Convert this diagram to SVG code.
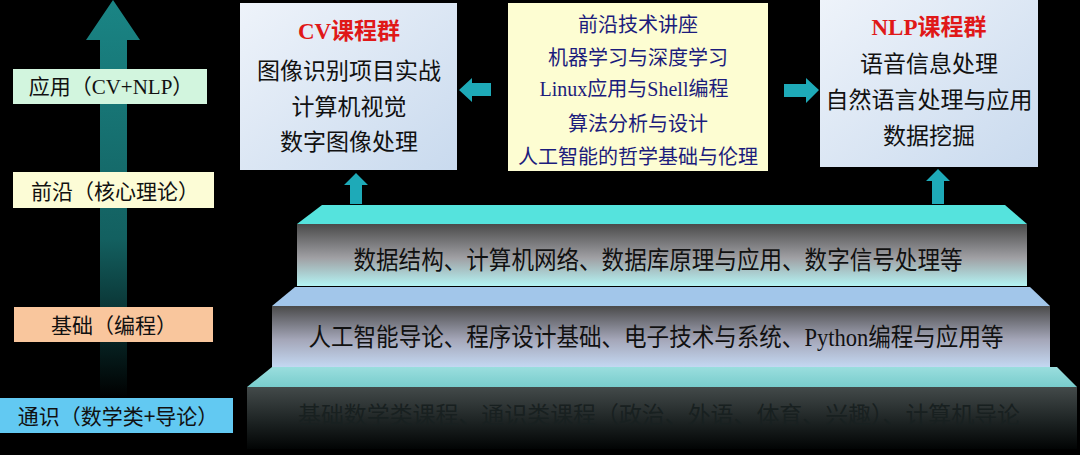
<svg xmlns="http://www.w3.org/2000/svg" width="1080" height="455" viewBox="0 0 1080 455">
<defs>
<style>
.cjk{font-family:"Noto Sans CJK SC","Noto Sans",sans-serif;}
.mix{font-family:"Liberation Serif","Noto Sans CJK SC",serif;}
.lbl{font-size:21px;fill:#111;text-anchor:middle;dominant-baseline:central;}
.box{font-size:23px;fill:#111;text-anchor:middle;dominant-baseline:central;}
.mid{font-size:20px;fill:#1c1c7c;text-anchor:middle;dominant-baseline:central;}
.ttl{font-size:23px;fill:#e01818;font-weight:bold;text-anchor:middle;dominant-baseline:central;}
.step{font-size:25px;fill:#111;text-anchor:middle;dominant-baseline:central;}
.arr{fill:#1eaab8;}
</style>
<linearGradient id="bigArrow" x1="0" y1="0" x2="0" y2="1">
<stop offset="0" stop-color="#1a8585"/>
<stop offset="0.6" stop-color="#136060"/>
<stop offset="1" stop-color="#000"/>
</linearGradient>
<linearGradient id="cvFill" x1="0" y1="0" x2="1" y2="1">
<stop offset="0" stop-color="#eef3fa"/>
<stop offset="1" stop-color="#c9daee"/>
</linearGradient>
<linearGradient id="front1" x1="0" y1="0" x2="0" y2="1">
<stop offset="0" stop-color="#4a4a4a"/>
<stop offset="0.55" stop-color="#a0a0a4"/>
<stop offset="1" stop-color="#b4f4f4"/>
</linearGradient>
<linearGradient id="front2" x1="0" y1="0" x2="0" y2="1">
<stop offset="0" stop-color="#4a4a4a"/>
<stop offset="0.55" stop-color="#a4a6b8"/>
<stop offset="1" stop-color="#c4d8f2"/>
</linearGradient>
<linearGradient id="front3" x1="0" y1="0" x2="0" y2="1">
<stop offset="0" stop-color="#434a4a"/>
<stop offset="0.6" stop-color="#1a2020"/>
<stop offset="1" stop-color="#020404"/>
</linearGradient>
<linearGradient id="top3" x1="0" y1="0" x2="0" y2="1">
<stop offset="0" stop-color="#9adede"/>
<stop offset="1" stop-color="#78cccc"/>
</linearGradient>
</defs>
<rect width="1080" height="455" fill="#000"/>

<g id="progress-arrow">
<path d="M113 0 L140 40 L127 40 L127 398 L100 398 L100 40 L86 40 Z" fill="url(#bigArrow)"/>
</g>

<g id="label-app">
<rect x="13" y="69" width="194" height="35" fill="#d2f5de"/>
<text class="mix lbl" x="111" y="87">应用（CV+NLP）</text>
</g>
<g id="label-frontier">
<rect x="13" y="172" width="201" height="36" fill="#fcfcd6"/>
<text class="cjk lbl" x="115" y="190">前沿（核心理论）</text>
</g>
<g id="label-basic">
<rect x="14" y="307" width="199" height="35" fill="#f9c69d"/>
<text class="cjk lbl" x="114" y="324">基础（编程）</text>
</g>
<g id="label-general">
<rect x="0" y="398" width="233" height="35" fill="#62c9f2"/>
<text class="cjk lbl" x="118" y="415">通识（数学类+导论）</text>
</g>

<g id="cv-box">
<rect x="240" y="3" width="217" height="167" fill="url(#cvFill)"/>
<text class="mix ttl" x="349" y="31">CV课程群</text>
<text class="cjk box" x="349" y="69">图像识别项目实战</text>
<text class="cjk box" x="349" y="105">计算机视觉</text>
<text class="cjk box" x="349" y="140">数字图像处理</text>
</g>

<g id="frontier-box">
<rect x="508" y="3" width="260" height="168" fill="#fdfdd2"/>
<text class="cjk mid" x="638" y="23">前沿技术讲座</text>
<text class="cjk mid" x="638" y="56">机器学习与深度学习</text>
<text class="mix mid" x="634" y="89">Linux应用与Shell编程</text>
<text class="cjk mid" x="638" y="122">算法分析与设计</text>
<text class="cjk mid" x="638" y="155">人工智能的哲学基础与伦理</text>
</g>

<g id="nlp-box">
<rect x="820" y="0" width="218" height="167" fill="url(#cvFill)"/>
<text class="mix ttl" x="929" y="27">NLP课程群</text>
<text class="cjk box" x="929" y="62">语音信息处理</text>
<text class="cjk box" x="929" y="98">自然语言处理与应用</text>
<text class="cjk box" x="929" y="134">数据挖掘</text>
</g>

<g id="step-top">
<path d="M322 205 L1005 205 L1027 224 L297 224 Z" fill="#55e3dd"/>
<rect x="297" y="224" width="730" height="62" fill="url(#front1)"/>
<text class="cjk step" x="658" y="258" textLength="609" lengthAdjust="spacingAndGlyphs">数据结构、计算机网络、数据库原理与应用、数字信号处理等</text>
</g>

<g id="step-middle">
<path d="M295 287 L1030 287 L1050 306 L272 306 Z" fill="#a2c6ea"/>
<rect x="272" y="306" width="778" height="61" fill="url(#front2)"/>
<text class="mix step" x="656" y="337" textLength="695" lengthAdjust="spacingAndGlyphs">人工智能导论、程序设计基础、电子技术与系统、Python编程与应用等</text>
</g>

<g id="step-bottom">
<path d="M272 367 L1057 367 L1077 387 L247 387 Z" fill="url(#top3)"/>
<rect x="247" y="387" width="830" height="62" fill="url(#front3)"/>
<text class="cjk" x="659" y="413" font-size="23" text-anchor="middle" dominant-baseline="central" fill="#182020" textLength="722" lengthAdjust="spacingAndGlyphs">基础数学类课程、通识类课程（政治、外语、体育、兴趣）、计算机导论</text>
</g>

<g id="connectors">
<path class="arr" d="M459 90 L472 78 L472 83 L491 83 L491 96 L472 96 L472 102 Z"/>
<path class="arr" d="M819 90 L806 78 L806 84 L784 84 L784 97 L806 97 L806 103 Z"/>
<path class="arr" d="M356 173 L368 185 L362 185 L362 204 L350 204 L350 185 L344 185 Z"/>
<path class="arr" d="M938 169 L950 181 L944 181 L944 204 L932 204 L932 181 L926 181 Z"/>
</g>
</svg>
